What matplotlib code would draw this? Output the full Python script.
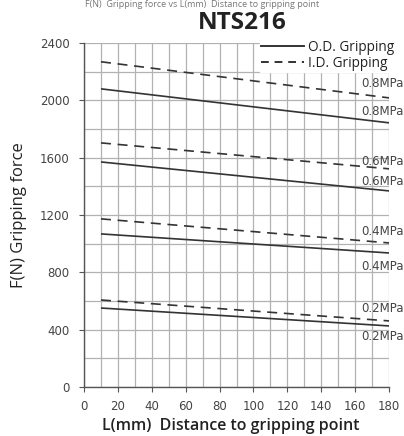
import matplotlib
matplotlib.use("Agg")
import matplotlib.pyplot as plt
from matplotlib.lines import Line2D

x_vals = [10, 180]
od_02 = [551, 426]
id_02 = [607, 461]
od_04 = [1068, 935]
id_04 = [1173, 1005]
od_06 = [1570, 1368]
id_06 = [1703, 1522]
od_08 = [2080, 1843]
id_08 = [2269, 2017]
pressures = ["0.2MPa", "0.4MPa", "0.6MPa", "0.8MPa"]
x_ticks = [0, 20, 40, 60, 80, 100, 120, 140, 160, 180]
y_ticks = [0, 400, 800, 1200, 1600, 2000, 2400]

fig = plt.figure(figsize=(4.04, 4.36), dpi=100)
ax = fig.add_axes([0.208, 0.1124, 0.755, 0.789])

lc = "#333333"
# label offsets (N) relative to line end: (I.D., O.D.)
offsets = {"0.2MPa": (90, -77), "0.4MPa": (77, -97), "0.6MPa": (49, 63), "0.8MPa": (100, 77)}
for od, idd, p in zip([od_02, od_04, od_06, od_08], [id_02, id_04, id_06, id_08], pressures):
    ax.plot(x_vals, od, color=lc, lw=1.2, solid_capstyle='butt', zorder=3)
    ax.plot(x_vals, idd, color=lc, lw=1.2, dashes=(6, 4), zorder=3)
    oi, oo = offsets[p]
    for yv in (idd[1] + oi, od[1] + oo):
        ax.text(163.5, yv, p, fontsize=8.5, color="#444444", ha='left', va='center',
                family="DejaVu Sans", zorder=7, clip_on=False)

ax.set_xlim(0, 180)
ax.set_ylim(0, 2400)
ax.set_xticks(x_ticks)
ax.set_yticks(y_ticks)
ax.set_xticks(range(0, 181, 10), minor=True)
ax.set_yticks(range(0, 2401, 200), minor=True)
ax.grid(which='both', color="#b2b2b2", lw=0.9, zorder=0)
ax.tick_params(which='minor', length=0)
ax.tick_params(which='major', length=3.5, color="#555555", labelsize=8.5, labelcolor="#444444", direction='out')
ax.tick_params(axis='y', pad=7)
ax.tick_params(axis='x', pad=6)
for s in ['top', 'right']:
    ax.spines[s].set_visible(False)
for s in ['left', 'bottom']:
    ax.spines[s].set_color("#555555")
    ax.spines[s].set_linewidth(1.0)

ax.set_xlabel("L(mm)  Distance to gripping point", fontsize=11.5, family="Open Sans", color="#222222",
              labelpad=3.5, fontweight='semibold', x=0.48)
ax.set_ylabel("F(N) Gripping force", fontsize=12, family="Open Sans", color="#222222", labelpad=9)
fig.text(0.599, 0.948, "NTS216", fontsize=17.5, fontweight='bold', family="Open Sans", ha='center', va='center', color="#222222")
fig.text(0.5, 0.999, "F(N)  Gripping force vs L(mm)  Distance to gripping point", fontsize=6.5, family="Open Sans",
         ha='center', va='top', color="#777777")

handles = [Line2D([0], [0], color=lc, lw=1.4), Line2D([0], [0], color=lc, lw=1.4, dashes=(4, 3))]
leg = ax.legend(handles, ["O.D. Gripping", "I.D. Gripping"], loc='upper right', bbox_to_anchor=(1.02, 1.01),
                frameon=True, fancybox=False, framealpha=1, edgecolor='white',
                handlelength=3.2, handletextpad=0.3, borderpad=0.05, labelspacing=0.05, borderaxespad=0,
                prop={'family': 'Open Sans', 'size': 9.8})
for t in leg.get_texts():
    t.set_color("#222222")
leg.set_zorder(5)

fig.savefig("out.png", dpi=100)
